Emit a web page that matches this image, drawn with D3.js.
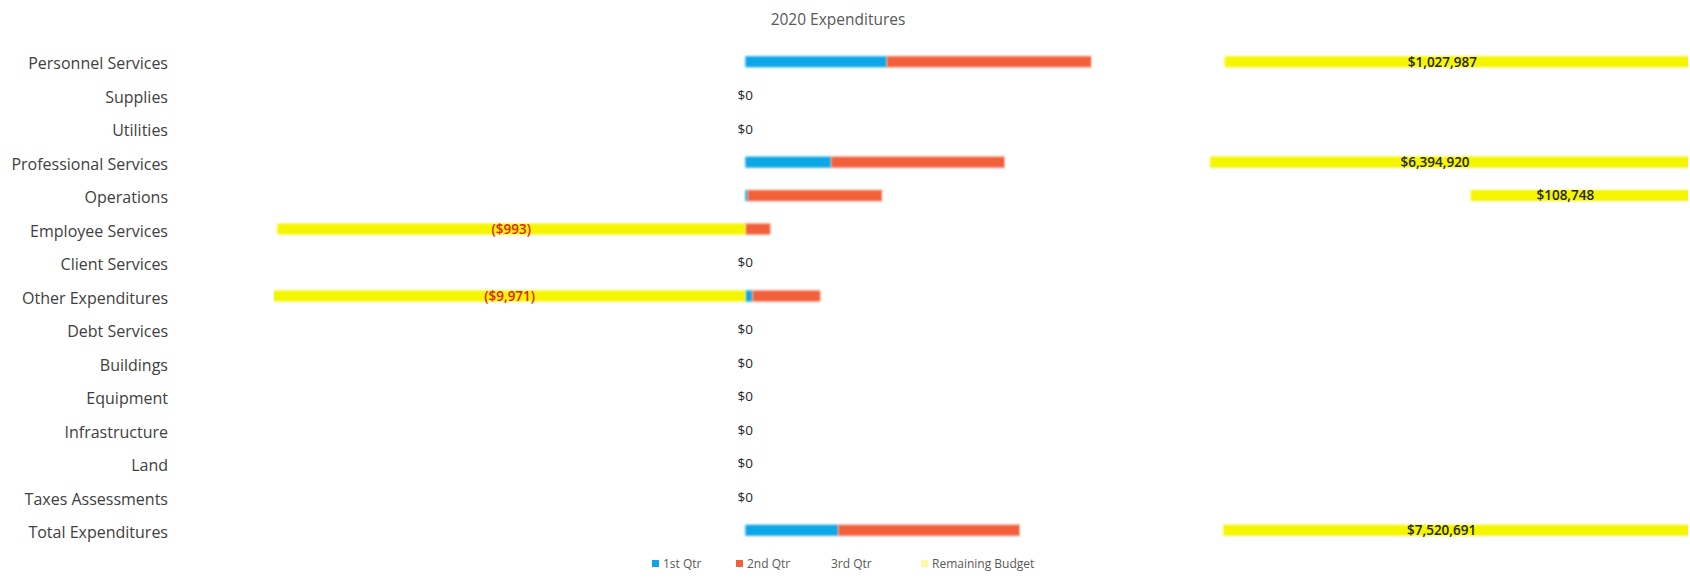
<!DOCTYPE html>
<html>
<head>
<meta charset="utf-8">
<script src="https://cdn.jsdelivr.net/npm/d3@7"></script>
<style>
  html, body { margin: 0; padding: 0; background: #fff; }
  svg { display: block; font-family: "Open Sans", Lato, sans-serif; }
</style>
</head>
<body>
<svg id="chart" width="1690" height="583"></svg>
<script>
// 2020 expenditures by category, stacked by quarter plus remaining budget
const categories = [
  "Personnel Services", "Supplies", "Utilities", "Professional Services",
  "Operations", "Employee Services", "Client Services", "Other Expenditures",
  "Debt Services", "Buildings", "Equipment", "Infrastructure", "Land",
  "Taxes Assessments", "Total Expenditures"
];
const qtr1 = [300, 0, 0, 182, 5, 0, 0, 15, 0, 0, 0, 0, 0, 0, 197];
const qtr2 = [435, 0, 0, 369, 286, 53, 0, 144, 0, 0, 0, 0, 0, 0, 386];
const qtr3 = [282, 0, 0, 435, 1248, 0, 0, 0, 0, 0, 0, 0, 0, 0, 431];
const remainingBudget = [1027987, 0, 0, 6394920, 108748, -993, 0, -9971, 0, 0, 0, 0, 0, 0, 7520691];

const seriesNames = ["1st Qtr", "2nd Qtr", "3rd Qtr", "Remaining Budget"];
const seriesColors = ["#0aa6e6", "#f2603b", "#ffffff", "#f5f500"];
const valueDomain = [-1000, 2000];

const W = 1690, H = 583;
const plot = { left: 274, right: 1688, top: 45, bottom: 547 };

const svg = d3.select("#chart");
svg.append("rect").attr("width", W).attr("height", H).attr("fill", "#fff");

// rows for the stack generator
const rows = categories.map((c, i) => ({
  category: c,
  "1st Qtr": qtr1[i],
  "2nd Qtr": qtr2[i],
  "3rd Qtr": qtr3[i],
  "Remaining Budget": remainingBudget[i]
}));

const stacked = d3.stack()
  .keys(seriesNames)
  .offset(d3.stackOffsetDiverging)(rows);

const x = d3.scaleLinear().domain(valueDomain).range([plot.left, plot.right]);
const y = d3.scaleBand().domain(categories).range([plot.top, plot.bottom]).paddingInner(0.67).paddingOuter(0.335);

const defs = svg.append("defs");
defs.append("clipPath").attr("id", "plot-clip")
  .append("rect")
  .attr("x", plot.left).attr("y", 0)
  .attr("width", plot.right - plot.left).attr("height", H);
defs.append("filter").attr("id", "soft")
  .attr("x", "-2%").attr("y", "-50%").attr("width", "104%").attr("height", "200%")
  .append("feGaussianBlur").attr("stdDeviation", 0.9);

// title
svg.append("text")
  .attr("x", 838).attr("y", 25)
  .attr("text-anchor", "middle")
  .attr("font-size", 15.5)
  .attr("fill", "#595959")
  .text("2020 Expenditures");

// category axis
const yAxis = d3.axisLeft(y).tickSize(0).tickPadding(0);
const gAxis = svg.append("g")
  .attr("transform", "translate(168,2)")
  .call(yAxis);
gAxis.select(".domain").remove();
gAxis.selectAll("text")
  .attr("font-size", 16)
  .attr("fill", "#404040")
  .attr("font-family", "'Open Sans', Lato, sans-serif")
  .attr("dy", "0.36em");

// bars
const barsG = svg.append("g").attr("clip-path", "url(#plot-clip)");
barsG.selectAll("g.series")
  .data(stacked)
  .join("g")
  .attr("class", "series")
  .attr("fill", (d, i) => seriesColors[i])
  .attr("filter", "url(#soft)")
  .selectAll("rect")
  .data(d => d.map(v => ({ v, cat: v.data.category })))
  .join("rect")
  .attr("x", d => x(Math.min(d.v[0], d.v[1])))
  .attr("y", d => y(d.cat))
  .attr("width", d => Math.abs(x(d.v[1]) - x(d.v[0])))
  .attr("height", y.bandwidth());

// remaining budget labels, centred in the visible part of each bar
const fmtMoney = v => v < 0 ? "(" + d3.format("$,")(-v) + ")" : d3.format("$,")(v);
const remSeries = stacked[3];
svg.append("g")
  .selectAll("text")
  .data(remSeries)
  .join("text")
  .attr("x", d => {
    const a = Math.max(plot.left, Math.min(plot.right, x(Math.min(d[0], d[1]))));
    const b = Math.max(plot.left, Math.min(plot.right, x(Math.max(d[0], d[1]))));
    return (a + b) / 2 - (d.data["Remaining Budget"] > 0 ? 14 : 0);
  })
  .attr("y", d => y(d.data.category) + y.bandwidth() / 2)
  .attr("dy", "0.36em")
  .attr("text-anchor", "middle")
  .attr("font-size", 13.5)
  .attr("font-weight", d => d.data["Remaining Budget"] === 0 ? 400 : 600)
  .attr("fill", d => d.data["Remaining Budget"] < 0 ? "#e21b1b" : "#262626")
  .text(d => fmtMoney(d.data["Remaining Budget"]));

// legend
const legendX = [652, 736, 820, 921];
const legend = svg.append("g").attr("transform", "translate(0,564)");
const items = legend.selectAll("g")
  .data(seriesNames)
  .join("g")
  .attr("transform", (d, i) => `translate(${legendX[i]},0)`);
items.append("rect")
  .attr("x", 0).attr("y", -4)
  .attr("width", 7).attr("height", 7)
  .attr("fill", (d, i) => seriesColors[i])
  .attr("opacity", (d, i) => i === 3 ? 0.35 : 1);
items.append("text")
  .attr("x", 11).attr("y", 0)
  .attr("dy", "0.35em")
  .attr("font-size", 12)
  .attr("fill", "#595959")
  .text(d => d);
</script>
</body>
</html>
